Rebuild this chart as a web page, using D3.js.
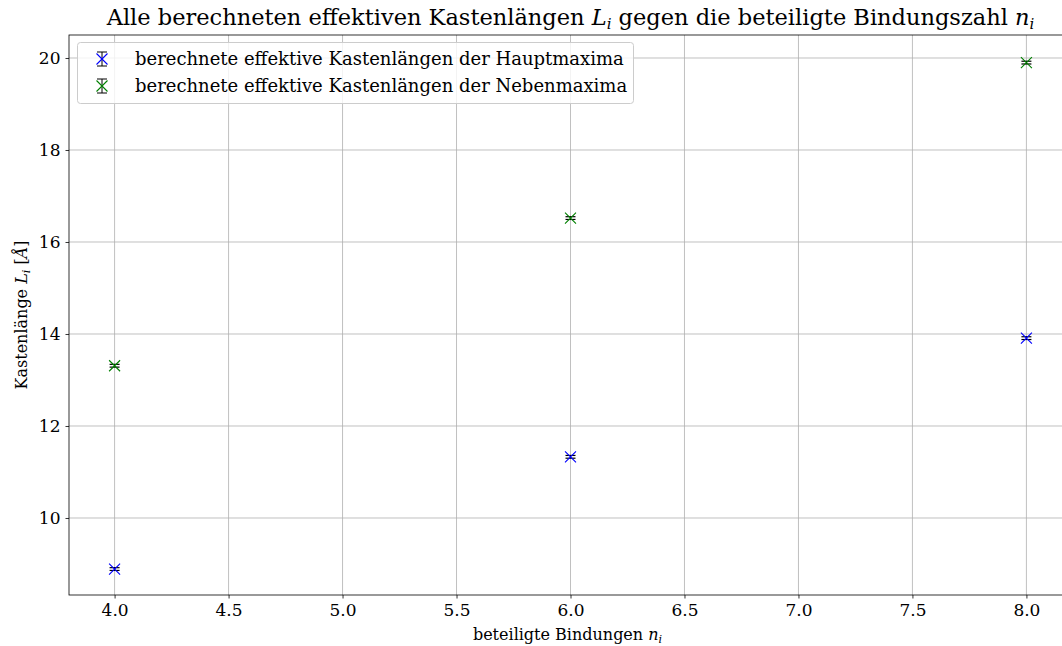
<!DOCTYPE html>
<html>
<head>
<meta charset="utf-8">
<title>Kastenlängen</title>
<script src="https://cdn.jsdelivr.net/npm/d3@7"></script>
<style>
	body{ margin:0; background:#fff; }
	text{ font-family:"DejaVu Serif", serif; fill:#000; }
	.math{ font-family:"DejaVu Serif", serif; font-style:italic; }
</style>
</head>
<body>
<div id="chart"></div>
<script>
/* Daten */
var bindungen = [4, 6, 8];
var haupt = [8.89, 11.33, 13.91];
var haupt_err = [0.03, 0.03, 0.03];
var neben = [13.31, 16.52, 19.90];
var neben_err = [0.03, 0.03, 0.03];
var x_ticks = [4.0, 4.5, 5.0, 5.5, 6.0, 6.5, 7.0, 7.5, 8.0];
var y_ticks = [10, 12, 14, 16, 18, 20];
var series = [
	{name:"berechnete effektive Kastenlängen der Hauptmaxima", y:haupt, err:haupt_err, color:"#0000ff"},
	{name:"berechnete effektive Kastenlängen der Nebenmaxima", y:neben, err:neben_err, color:"#008000"}
];

var w = 1062, h = 646;
var pl = 69, pr = 1072, pt = 35, pb = 595;
var svg = d3.select("#chart").append("svg").attr("width",w).attr("height",h);

var x = d3.scaleLinear().domain([3.8, 8.2]).range([pl, pr]);
var y = d3.scaleLinear().domain([8.326, 20.5]).range([pb, pt]);

/* grid */
svg.append("g").selectAll("line").data(x_ticks).enter().append("line")
	.attr("x1",function(d){return x(d);}).attr("x2",function(d){return x(d);})
	.attr("y1",pt).attr("y2",pb).attr("stroke","#b0b0b0").attr("stroke-width",0.8);
svg.append("g").selectAll("line").data(y_ticks).enter().append("line")
	.attr("y1",function(d){return y(d);}).attr("y2",function(d){return y(d);})
	.attr("x1",pl).attr("x2",pr).attr("stroke","#b0b0b0").attr("stroke-width",0.8);

/* axes */
var xa = svg.append("g").attr("transform","translate(0,"+pb+")")
	.call(d3.axisBottom(x).tickValues(x_ticks).tickFormat(d3.format(".1f")).tickSize(3.5).tickPadding(5));
var ya = svg.append("g").attr("transform","translate("+pl+",0)")
	.call(d3.axisLeft(y).tickValues(y_ticks).tickFormat(d3.format("d")).tickSize(3.5).tickPadding(5));
[xa, ya].forEach(function(a){
	a.selectAll("text").style("font-size","17px").style("font-family","DejaVu Serif");
	a.select(".domain").remove();
	a.selectAll(".tick line").attr("stroke","#000").attr("stroke-width",0.8);
});
/* spines */
svg.append("rect").attr("x",pl).attr("y",pt).attr("width",pr-pl).attr("height",pb-pt)
	.attr("fill","none").attr("stroke","#000").attr("stroke-width",0.8);

/* points with error bars */
function draw_point(g, px, py, e, color){
	var y0 = y(py - e), y1 = y(py + e);
	g.append("line").attr("x1",x(px)).attr("x2",x(px)).attr("y1",y0).attr("y2",y1).attr("stroke","#000").attr("stroke-width",1);
	[y0, y1].forEach(function(yy){
		g.append("line").attr("x1",x(px)-5).attr("x2",x(px)+5).attr("y1",yy).attr("y2",yy).attr("stroke","#000").attr("stroke-width",1.2);
	});
	var s = 5.5, cx = x(px), cy = y(py);
	g.append("path").attr("d","M"+(cx-s)+","+(cy-s)+"L"+(cx+s)+","+(cy+s)+"M"+(cx-s)+","+(cy+s)+"L"+(cx+s)+","+(cy-s))
		.attr("stroke",color).attr("stroke-width",1.1).attr("fill","none");
}
series.forEach(function(s){
	var g = svg.append("g");
	for(var i = 0; i < bindungen.length; i++){
		draw_point(g, bindungen[i], s.y[i], s.err[i], s.color);
	}
});

/* legend */
var lg = svg.append("g");
lg.append("rect").attr("x",77.5).attr("y",42.5).attr("width",556).attr("height",61).attr("rx",3)
	.attr("fill","#fff").attr("fill-opacity",0.8).attr("stroke","#cccccc").attr("stroke-width",1);
series.forEach(function(s, i){
	var cy = 59 + i*27, cx = 102;
	lg.append("line").attr("x1",cx).attr("x2",cx).attr("y1",cy-7).attr("y2",cy+7).attr("stroke","#000").attr("stroke-width",1);
	lg.append("line").attr("x1",cx-5).attr("x2",cx+5).attr("y1",cy-7).attr("y2",cy-7).attr("stroke","#000").attr("stroke-width",1);
	lg.append("line").attr("x1",cx-5).attr("x2",cx+5).attr("y1",cy+7).attr("y2",cy+7).attr("stroke","#000").attr("stroke-width",1);
	var m = 5.5;
	lg.append("path").attr("d","M"+(cx-m)+","+(cy-m)+"L"+(cx+m)+","+(cy+m)+"M"+(cx-m)+","+(cy+m)+"L"+(cx+m)+","+(cy-m))
		.attr("stroke",s.color).attr("stroke-width",1.1);
	lg.append("text").attr("x",135).attr("y",cy+6).style("font-size","18px").text(s.name);
});

/* title and labels */
var t = svg.append("text").attr("x",(pl+pr)/2).attr("y",25).attr("text-anchor","middle").style("font-size","22.5px");
t.append("tspan").text("Alle berechneten effektiven Kastenlängen ");
t.append("tspan").attr("class","math").text("L");
t.append("tspan").attr("class","math").attr("dy",4).style("font-size","15px").text("i");
t.append("tspan").attr("dy",-4).text(" gegen die beteiligte Bindungszahl ");
t.append("tspan").attr("class","math").text("n");
t.append("tspan").attr("class","math").attr("dy",4).style("font-size","15px").text("i");

var xl = svg.append("text").attr("x",(pl+pr)/2 - 3).attr("y",640).attr("text-anchor","middle").style("font-size","16px");
xl.append("tspan").text("beteiligte Bindungen ");
xl.append("tspan").attr("class","math").text("n");
xl.append("tspan").attr("class","math").attr("dy",3).style("font-size","11px").text("i");

var yl = svg.append("text").attr("transform","translate(27,"+((pt+pb)/2)+") rotate(-90)").attr("text-anchor","middle").style("font-size","16px");
yl.append("tspan").text("Kastenlänge ");
yl.append("tspan").attr("class","math").text("L");
yl.append("tspan").attr("class","math").attr("dy",3).style("font-size","11px").text("i");
yl.append("tspan").attr("dy",-3).text(" [");
yl.append("tspan").attr("class","math").text("Å");
yl.append("tspan").text("]");
</script>
</body>
</html>
